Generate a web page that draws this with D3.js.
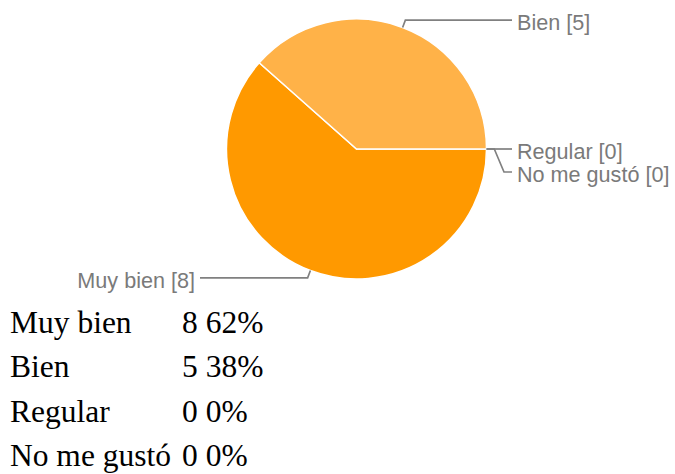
<!DOCTYPE html>
<html>
<head>
<meta charset="utf-8">
<script src="https://cdn.jsdelivr.net/npm/d3@7"></script>
<style>
  body { margin: 0; background: #fff; }
</style>
</head>
<body>
<svg id="chart" width="675" height="474"></svg>
<script>
// Survey answers and counts
const categories = ["Muy bien", "Bien", "Regular", "No me gustó"];
const counts = [8, 5, 0, 0];
const sliceColors = ["#ff9900", "#ffb248", "#ffcc80", "#ffe0b3"];

const svg = d3.select("#chart");
const cx = 356.5, cy = 149, radius = 130;
const total = d3.sum(counts);

const data = categories.map((c, i) => ({ name: c, value: counts[i], color: sliceColors[i] }));

// Pie starts at 3 o'clock and goes clockwise
const pie = d3.pie()
    .value(d => d.value)
    .sort(null)
    .startAngle(Math.PI / 2)
    .endAngle(Math.PI / 2 + 2 * Math.PI);

const arcs = pie(data);
const arc = d3.arc().innerRadius(0).outerRadius(radius);

const g = svg.append("g").attr("transform", `translate(${cx},${cy})`);

g.selectAll("path.slice")
    .data(arcs.filter(d => d.value > 0))
    .enter().append("path")
    .attr("class", "slice")
    .attr("d", arc)
    .attr("fill", d => d.data.color)
    .attr("stroke", "#fff")
    .attr("stroke-width", 1.5);

// Leader lines and labels
const rightX = 512, leftX = 200, lineH = 23;
const labels = arcs.map(d => {
    const a = (d.startAngle + d.endAngle) / 2;
    const edge = [cx + radius * Math.sin(a), cy - radius * Math.cos(a)];
    const elbow = [cx + radius * 1.06 * Math.sin(a), cy - radius * 1.06 * Math.cos(a)];
    return { d: d, edge: edge, elbow: elbow, right: Math.sin(a) >= -1e-6, y: elbow[1] };
});

// Push overlapping labels on the same side downwards
[true, false].forEach(side => {
    const group = labels.filter(l => l.right === side);
    for (let i = 1; i < group.length; i++) {
        if (group[i].y < group[i - 1].y + lineH) group[i].y = group[i - 1].y + lineH;
    }
});

labels.forEach(l => {
    const x = l.right ? rightX : leftX;
    const pts = [l.edge, l.elbow, [l.right ? x - 8 : x + 8, l.y], [x, l.y]];
    svg.append("path")
        .attr("d", d3.line()(pts))
        .attr("fill", "none")
        .attr("stroke", "#808080")
        .attr("stroke-width", 1.7);
    svg.append("text")
        .attr("x", l.right ? x + 5 : x - 5)
        .attr("y", l.y + 10)
        .attr("text-anchor", l.right ? "start" : "end")
        .attr("font-family", "Liberation Sans, Arial, sans-serif")
        .attr("font-size", "21.6px")
        .attr("fill", "#7a7a7a")
        .text(`${l.d.data.name} [${l.d.data.value}]`);
});

// Summary table below the chart
const pct = d3.format(".0%");
const table = svg.append("g")
    .attr("font-family", "Liberation Serif, Times New Roman, serif")
    .attr("font-size", "31.5px")
    .attr("fill", "#000");

data.forEach((d, i) => {
    const y = 333 + i * 44.3;
    table.append("text").attr("x", 10).attr("y", y).text(d.name);
    table.append("text").attr("x", 182).attr("y", y).text(`${d.value} ${pct(d.value / total)}`);
});
</script>
</body>
</html>
